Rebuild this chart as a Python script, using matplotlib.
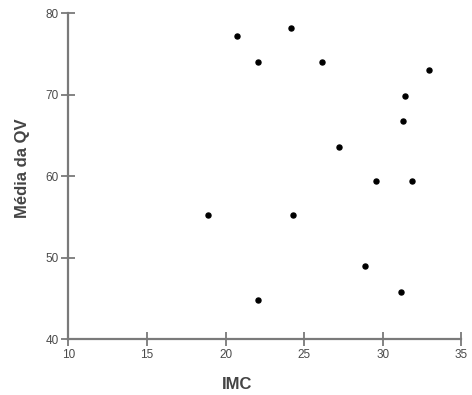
import matplotlib
matplotlib.use('Agg')
import matplotlib.pyplot as plt

plt.rcParams['font.family'] = ['Liberation Sans', 'DejaVu Sans']

imc = [20.7, 22.05, 24.2, 26.15, 32.95, 31.4, 31.3, 27.2, 29.55, 31.9, 18.9, 24.3, 28.9, 31.2, 22.05]
qv = [77.25, 74.0, 78.2, 74.0, 73.0, 69.9, 66.75, 63.6, 59.45, 59.45, 55.25, 55.25, 49.0, 45.85, 44.8]

xticks = [10, 15, 20, 25, 30, 35]
yticks = [40, 50, 60, 70, 80]

fig = plt.figure(figsize=(4.72, 3.95), dpi=100)
ax = fig.add_axes([0.145, 0.141, 0.832, 0.825])

ax.scatter(imc, qv, s=13, color='black', zorder=3)

ax.set_xlim(10, 35)
ax.set_ylim(40, 80)
ax.set_xticks(xticks)
ax.set_yticks(yticks)

for s in ['top', 'right']:
    ax.spines[s].set_visible(False)
for s in ['left', 'bottom']:
    ax.spines[s].set_color('#7a7a7a')
    ax.spines[s].set_linewidth(1.6)

ax.tick_params(direction='inout', length=10, width=1.3, color='#7a7a7a',
               labelsize=8.5, labelcolor='#4a4a4a', pad=2)

ax.set_xlabel('IMC', fontsize=12, fontweight='bold', color='#444444')
ax.set_ylabel('Média da QV', fontsize=12, fontweight='bold', color='#444444')
ax.xaxis.set_label_coords(0.43, -0.115)
ax.yaxis.set_label_coords(-0.098, 0.526)

fig.savefig('out.png', dpi=100)
